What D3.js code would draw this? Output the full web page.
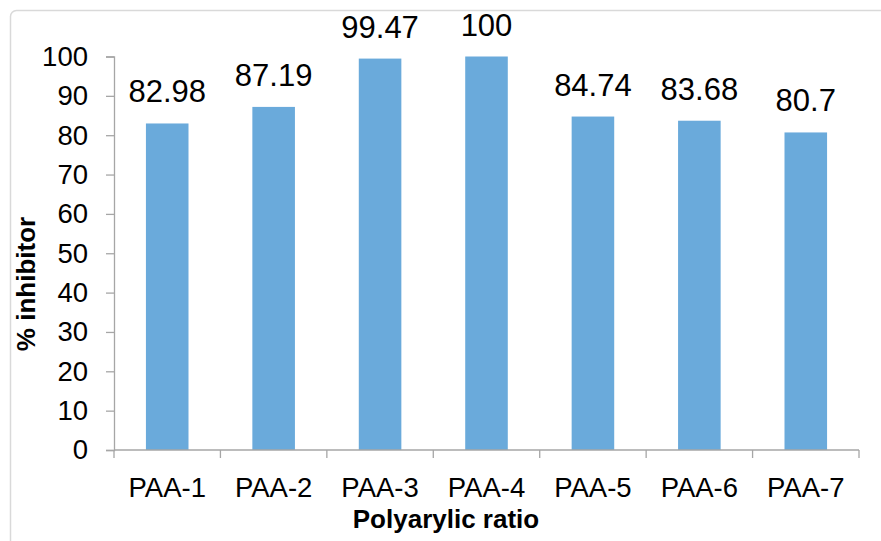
<!DOCTYPE html>
<html>
<head>
<meta charset="utf-8">
<script src="https://cdn.jsdelivr.net/npm/d3@7"></script>
<style>
  html, body { margin: 0; padding: 0; background: #fff; }
  svg { display: block; font-family: "Liberation Sans", Arial, sans-serif; }
</style>
</head>
<body>
<svg id="chart" width="881" height="541"></svg>
<script>
// Inhibition efficiency for each polyarylic ratio sample
const categories = ["PAA-1", "PAA-2", "PAA-3", "PAA-4", "PAA-5", "PAA-6", "PAA-7"];
const values = [82.98, 87.19, 99.47, 100, 84.74, 83.68, 80.7];
const yTicks = [0, 10, 20, 30, 40, 50, 60, 70, 80, 90, 100];
const yTitle = "% inhibitor";
const xTitle = "Polyarylic ratio";

const svg = d3.select("#chart");

// outer chart frame
svg.append("rect")
  .attr("x", 10.5).attr("y", 10.5)
  .attr("width", 900).attr("height", 560)
  .attr("rx", 6)
  .attr("fill", "#fff")
  .attr("stroke", "#d9d9d9")
  .attr("stroke-width", 1.5);

const plot = { left: 114, right: 859, top: 56.5, bottom: 450 };

const x = d3.scaleBand()
  .domain(categories)
  .range([plot.left, plot.right])
  .paddingInner(0.6)
  .paddingOuter(0.3);

const y = d3.scaleLinear()
  .domain([0, 100])
  .range([plot.bottom, plot.top]);

const axisColor = "#a6a6a6";

// bars
svg.append("g").selectAll("rect")
  .data(values)
  .join("rect")
  .attr("x", (d, i) => x(categories[i]))
  .attr("y", d => y(d))
  .attr("width", x.bandwidth())
  .attr("height", d => y(0) - y(d))
  .attr("fill", "#6aaadb");

// value labels
svg.append("g").selectAll("text")
  .data(values)
  .join("text")
  .attr("x", (d, i) => x(categories[i]) + x.bandwidth() / 2)
  .attr("y", d => y(d) - 21)
  .attr("text-anchor", "middle")
  .attr("font-size", 31)
  .attr("fill", "#000")
  .text(d => d);

// y axis
const yAxis = d3.axisLeft(y)
  .tickValues(yTicks)
  .tickSize(8)
  .tickPadding(18)
  .tickFormat(d3.format("d"));
const gy = svg.append("g")
  .attr("transform", `translate(${plot.left},0)`)
  .call(yAxis);
gy.select(".domain").attr("stroke", axisColor).attr("stroke-width", 1.3);
gy.selectAll(".tick line").attr("stroke", axisColor).attr("stroke-width", 1.3);
gy.selectAll(".tick text")
  .attr("font-size", 27.5)
  .attr("font-family", "Liberation Sans, Arial, sans-serif")
  .attr("fill", "#000");

// x axis with ticks between categories
const xLine = svg.append("g");
xLine.append("line")
  .attr("x1", plot.left).attr("x2", plot.right)
  .attr("y1", plot.bottom).attr("y2", plot.bottom)
  .attr("stroke", axisColor).attr("stroke-width", 1.3);
const step = x.step();
const edges = d3.range(categories.length + 1).map(i => plot.left + i * (plot.right - plot.left) / categories.length);
xLine.selectAll("line.sep")
  .data(edges)
  .join("line")
  .attr("class", "sep")
  .attr("x1", d => d).attr("x2", d => d)
  .attr("y1", plot.bottom).attr("y2", plot.bottom + 8)
  .attr("stroke", axisColor).attr("stroke-width", 1.3);

svg.append("g").selectAll("text")
  .data(categories)
  .join("text")
  .attr("x", d => x(d) + x.bandwidth() / 2)
  .attr("y", 497)
  .attr("text-anchor", "middle")
  .attr("font-size", 27.5)
  .attr("fill", "#000")
  .text(d => d);

// axis titles
svg.append("text")
  .attr("x", 446)
  .attr("y", 528)
  .attr("text-anchor", "middle")
  .attr("font-size", 26)
  .attr("font-weight", "bold")
  .attr("fill", "#000")
  .text(xTitle);

svg.append("text")
  .attr("transform", "translate(35,284) rotate(-90)")
  .attr("text-anchor", "middle")
  .attr("font-size", 26)
  .attr("font-weight", "bold")
  .attr("fill", "#000")
  .text(yTitle);
</script>
</body>
</html>
